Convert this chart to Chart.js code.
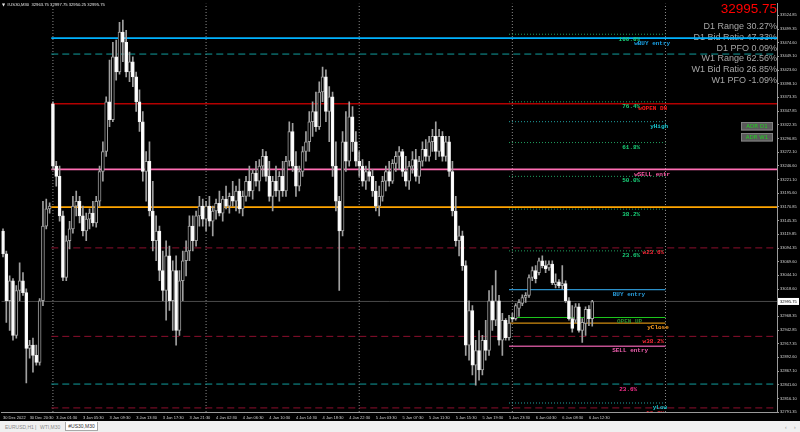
<!DOCTYPE html>
<html><head><meta charset="utf-8">
<script src="https://cdn.jsdelivr.net/npm/chart.js@4.4.1/dist/chart.umd.min.js"></script>
<style>
html,body{margin:0;padding:0;background:#000;width:800px;height:432px;overflow:hidden}
#wrap{position:absolute;left:0;top:0;width:800px;height:421px}
#tabs{position:absolute;left:0;top:421px;width:800px;height:11px;background:#f0f0f0;font:5px 'Liberation Sans',Arial,sans-serif;color:#8a8a8a}
#tabs span{position:absolute;top:3px;white-space:nowrap}
#tabs .act{position:absolute;left:65px;top:1px;width:31px;height:8px;background:#fff;border:1px solid #a8a8a8;border-top:none;color:#303030;text-align:center;line-height:8px}
</style></head><body>
<div id="wrap"><canvas id="c" width="800" height="421"></canvas></div>
<div id="tabs"><span style="left:5px">EURUSD,H1</span><span style="left:35px">|</span><span style="left:40px">WTI,M30</span><div class="act">#US30,M30</div><span style="left:785px">‹</span><span style="left:794px">›</span></div>
<script>
// ---------- DATA (US30 M30) ----------
const symbol = '#US30,M30';
const opens = [
33126,33084,32997,33034,32933,33016,33034,33012,32909,32915,32896,32883,32997,33135,33167,
33361,33246,33227,33154,33040,33108,33130,33172,33181,33154,33126,33148,33159,33141,33181,
33236,33273,33365,33332,33448,33420,33494,33475,33420,33439,33411,33365,33328,33236,33255,
33163,33108,33126,33053,33016,33080,32997,33053,32942,33034,33071,33089,33135,33108,33154,
33172,33148,33172,33144,33163,33177,33159,33185,33172,33190,33181,33200,33167,33190,33218,
33200,33233,33218,33246,33264,33227,33190,33218,33200,33227,33200,33255,33310,33246,33209,
33236,33273,33291,33328,33347,33319,33383,33411,33347,33374,33246,33181,33126,33291,33255,
33337,33291,33255,33246,33218,33236,33227,33200,33172,33190,33218,33236,33218,33251,33264,
33273,33236,33218,33246,33258,33227,33255,33277,33264,33291,33301,33273,33301,33264,33291,
33236,33163,33108,33117,33062,32915,32979,32878,32905,32869,32924,32905,32997,32961,32997,
32924,32961,32929,32966,32964,32983,32992,33003,33007,33040,33053,33049,33071,33062,33058,
33065,33027,33032,33025,33029,32997,32964,32961,32986,32942,32955,32981,32963.75];
const highs = [
33130,33089,33043,33038,33025,33067,33049,33019,32924,32928,32915,33001,33181,33185,33178,
33365,33255,33246,33163,33117,33144,33190,33200,33190,33172,33159,33167,33181,33190,33246,
33291,33374,33442,33475,33479,33512,33516,33497,33457,33448,33420,33387,33347,33273,33291,
33218,33154,33135,33089,33108,33098,33071,33080,33053,33089,33108,33154,33154,33163,33190,
33185,33181,33190,33172,33185,33200,33190,33209,33196,33218,33209,33222,33200,33227,33246,
33240,33255,33258,33277,33273,33255,33227,33246,33236,33255,33264,33328,33325,33273,33246,
33282,33310,33347,33365,33383,33402,33429,33424,33393,33383,33291,33190,33310,33347,33365,
33356,33310,33273,33258,33246,33255,33240,33218,33209,33227,33246,33255,33258,33273,33282,
33277,33264,33255,33273,33277,33264,33291,33295,33301,33314,33328,33314,33310,33301,33301,
33255,33190,33135,33126,33071,32997,32988,32924,32942,32933,32961,33016,33025,33053,33007,
32974,32964,32970,32974,32992,32999,33008,33012,33045,33060,33062,33076,33080,33071,33071,
33071,33047,33036,33062,33034,33003,32988,32992,32992,32964,32986,32988,32997.75];
const lows = [
33078,32957,32942,32924,32928,32997,33007,32845,32891,32865,32878,32878,32988,33130,33159,
33240,33209,33144,33034,33034,33093,33122,33154,33141,33117,33108,33130,33135,33133,33172,
33218,33264,33319,33328,33405,33416,33439,33411,33402,33393,33347,33310,33218,33181,33154,
33089,33071,33034,32997,32961,32979,32942,32915,32933,32997,33043,33071,33089,33098,33135,
33135,33126,33135,33117,33148,33154,33144,33167,33159,33172,33163,33159,33154,33181,33190,
33185,33209,33200,33227,33218,33181,33163,33190,33181,33190,33190,33246,33236,33190,33200,
33227,33255,33273,33301,33310,33314,33365,33328,33291,33227,33163,33016,33117,33236,33246,
33273,33246,33227,33209,33203,33218,33190,33163,33154,33181,33200,33209,33214,33236,33240,
33227,33209,33203,33233,33218,33214,33246,33255,33255,33273,33258,33264,33255,33255,33227,
33154,33098,33080,33053,32896,32887,32860,32841,32850,32860,32887,32896,32942,32951,32915,
32896,32924,32924,32958,32961,32968,32988,32994,33003,33034,33030,33045,33058,33049,33053,
33027,33021,33021,33019,32994,32961,32939,32957,32939,32920,32933,32951,32950.25];
const closes = [
33084,32997,33034,32933,33016,33034,33012,32909,32915,32896,32883,32997,33135,33167,33172,
33246,33227,33154,33040,33108,33130,33172,33181,33154,33126,33148,33159,33141,33181,33236,
33273,33365,33332,33448,33420,33494,33475,33420,33439,33411,33365,33328,33236,33255,33163,
33108,33126,33053,33016,33080,32997,33053,32942,33034,33071,33089,33135,33108,33154,33172,
33148,33172,33144,33163,33177,33159,33185,33172,33190,33181,33200,33167,33190,33218,33200,
33233,33218,33246,33264,33227,33190,33218,33200,33227,33200,33255,33310,33246,33209,33236,
33273,33291,33328,33347,33319,33383,33411,33347,33374,33246,33181,33126,33291,33255,33337,
33291,33255,33246,33218,33236,33227,33200,33172,33190,33218,33236,33218,33251,33264,33273,
33236,33218,33246,33258,33227,33255,33277,33264,33291,33301,33273,33301,33264,33291,33236,
33163,33108,33117,33062,32915,32979,32878,32905,32869,32924,32905,32997,32961,32997,32924,
32961,32929,32956,32963,32988,32994,33003,33007,33040,33053,33038,33071,33062,33056,33065,
33030,33032,33025,33029,32997,32964,32946,32986,32942,32957,32981,32964,32995.75];

const xTickLabels = ['30 Dec 2022','30 Dec 20:30','3 Jan 01:30','3 Jan 05:30','3 Jan 09:30','3 Jan 13:30','3 Jan 17:30','3 Jan 21:30',
 '4 Jan 02:30','4 Jan 06:30','4 Jan 10:30','4 Jan 14:30','4 Jan 18:30','4 Jan 22:30','5 Jan 03:30','5 Jan 07:30','5 Jan 11:30',
 '5 Jan 15:30','5 Jan 19:30','5 Jan 23:30','6 Jan 04:30','6 Jan 08:30','6 Jan 12:30'];
const xTickBars = [0,8,16,24,32,40,48,56,64,72,80,88,96,104,112,120,128,136,144,152,160,168,176];
const yTickValues = [33524.85,33499.35,33474.60,33449.10,33423.60,33398.10,33373.35,33347.85,33322.35,33296.85,
 33272.10,33246.60,33221.10,33195.60,33170.85,33145.35,33119.85,33094.35,33069.60,33044.10,33018.60,
 32968.35,32942.85,32917.35,32892.60,32867.10,32841.60,32816.10,32791.35];
const dayStartBars = [15,61,107,153,199];

// weekly levels (long lines) and daily levels (short lines)
const weeklyLevels = [33482.6,33453.2,33361.3,33240.0,33170.1,33094.8,32931.2,32843.0,32798.9];
const dailyLevels  = [33489.9,33364.9,33328.2,33289.6,33227.1,33166.5,33089.3,33017.5,32966.1,32955.6,32912.8,32808.0];
const levelTexts = ['100.0%','wBUY entry','76.4%','wOPEN DN','yHigh','61.8%','wSELL entr','50.0%','38.2%','w23.6%','23.6%',
 'BUY entry','OPEN UP','yClose','w38.2%','SELL entry','23.6%','yLow','w50.0%'];
const levelTextPrices = [33480.7,33472.5,33356.7,33352.1,33319.0,33280.4,33230.8,33219.8,33157.3,33086,33081,
 33009.3,32957.8,32947.7,32922,32904.5,32833.8,32798.8,32787.8];
const infoLines = ['D1 Range 30.27%','D1 Bid Ratio 47.33%','D1 PFO 0.09%','W1 Range 62.56%','W1 Bid Ratio 26.85%','W1 PFO -1.09%'];
const adrLabels = ['ADR D1','ADR W1'];

// ---------- STYLES ----------
const yMin = 32791.35, yMax = 33546.9, slotMin = -0.5, slotMax = 232.5;
const DASH = [7,4], DOT = [1,2];
const weeklyStyles = [
 {c:'#00b2ff',w:1.6,d:[]},{c:'#109c9c',w:1,d:DASH},{c:'#b40000',w:1.3,d:[]},{c:'#ff6eb4',w:1.6,d:[]},
 {c:'#ffa500',w:1.6,d:[]},{c:'#8c0f2d',w:1,d:DASH},{c:'#8c0f2d',w:1,d:DASH},{c:'#109c9c',w:1,d:DASH},{c:'#8c0f2d',w:1,d:DASH}];
const FG='#1f9f5f', TL='#1fa0a0';
const dailyStyles = [
 {c:FG,w:1,d:DOT},{c:FG,w:1,d:DOT},{c:TL,w:1,d:DOT},{c:FG,w:1,d:DOT},{c:FG,w:1,d:DOT},{c:FG,w:1,d:DOT},{c:FG,w:1,d:DOT},
 {c:'#2b8fc8',w:1.3,d:[]},{c:'#1ec81e',w:1,d:[]},{c:'#d08c10',w:1.3,d:[]},{c:'#c05090',w:1.6,d:[]},{c:TL,w:1,d:DOT}];
const GR='#19d27a', WR='#ff2a3a';
const labelStyles = [
 {x:191.4,c:GR},{x:200.4,c:'#1aa3e8'},{x:191.4,c:GR},{x:199.5,c:'#ff1a1a'},{x:199.8,c:'#19c8d2'},{x:191.4,c:GR},
 {x:200.4,c:'#ff5aa8'},{x:191.4,c:GR},{x:191.4,c:GR},{x:198.6,c:WR},{x:191.4,c:GR},{x:192.9,c:'#2aa0e0'},
 {x:192,c:'#2f8f2f'},{x:200,c:'#ffa020'},{x:198.6,c:WR},{x:193.8,c:'#f060b0'},{x:190.5,c:'#ff3090'},{x:199.5,c:'#19c8d2'},{x:198.6,c:WR}];

const last = opens.length - 1;
const lastPrice = closes[last];
const bull = closes.map((c,i)=>c>=opens[i]);

function hline(v, x0, x1, st, order){
  return {type:'line', data:[{x:x0,y:v},{x:x1,y:v}], borderColor:st.c, borderWidth:st.w, borderDash:st.d,
          pointRadius:0, fill:false, tension:0, order:order};
}
const datasets = [];
datasets.push({type:'bar', data:opens.map((o,i)=>({x:i,y:[Math.min(o,closes[i]),Math.max(o,closes[i])]})),
  backgroundColor:bull.map(b=>b?'#000000':'#ffffff'), borderColor:bull.map(b=>b?'#a0a0a0':'#f4f4f4'),
  borderWidth:1, borderSkipped:false, barThickness:3, minBarLength:1, grouped:false, order:0});
datasets.push({type:'bar', data:lows.map((l,i)=>({x:i,y:[l,highs[i]]})),
  backgroundColor:'#a0a0a0', borderWidth:0, barThickness:1, grouped:false, order:1});
weeklyLevels.forEach((v,i)=>datasets.push(hline(v, 14.5, slotMax, weeklyStyles[i], 5)));
dailyLevels.forEach((v,i)=>datasets.push(hline(v, 152, 199, dailyStyles[i], 5)));
datasets.push(hline(lastPrice, slotMin, slotMax, {c:'#4a4a4a',w:1,d:[]}, 6));
dayStartBars.forEach(b=>datasets.push({type:'line', data:[{x:b,y:yMin},{x:b,y:yMax}], borderColor:'#8a8a8a',
  borderWidth:1, borderDash:DOT, pointRadius:0, fill:false, order:7}));

const overlay = {
  id:'overlay',
  beforeDatasetsDraw(chart){
    const {ctx, chartArea:a} = chart;
    ctx.save();
    ctx.textBaseline='middle'; ctx.textAlign='left'; ctx.fillStyle='#e6e6e6';
    ctx.font="4px 'DejaVu Sans'"; ctx.fillText('\u25BC', 2, 4.5);
    ctx.font="4.2px 'Liberation Sans'";
    ctx.fillText(symbol+'  '+[opens[last],highs[last],lows[last],closes[last]].map(v=>v.toFixed(2)).join(' '), 7, 4.5);
    ctx.textAlign='right'; ctx.textBaseline='alphabetic';
    ctx.fillStyle='#ff0000'; ctx.font="13.5px 'Liberation Sans'";
    ctx.fillText(lastPrice.toFixed(2), a.right, 13.3);
    ctx.fillStyle='#a6a6a6'; ctx.font="9px 'Liberation Sans'";
    infoLines.forEach((t,i)=>ctx.fillText(t, a.right, 29.3+i*10.7));
    ctx.restore();
  },
  afterDraw(chart){
    const {ctx, chartArea:a, scales:{x, y}} = chart;
    ctx.save();
    ctx.beginPath(); ctx.rect(a.left,a.top,a.width,a.height); ctx.clip();
    ctx.font="bold 6px 'Liberation Mono'"; ctx.textAlign='right'; ctx.textBaseline='middle';
    levelTexts.forEach((t,i)=>{
      ctx.fillStyle = labelStyles[i].c;
      ctx.fillText(t, x.getPixelForValue(labelStyles[i].x), y.getPixelForValue(levelTextPrices[i]));
    });
    // ADR boxes
    ctx.font="5.5px 'DejaVu Sans'"; ctx.textAlign='center';
    adrLabels.forEach((t,i)=>{
      const by = 122 + i*11;
      ctx.fillStyle='#5a5a5a'; ctx.fillRect(741, by, 32, 8.5);
      ctx.strokeStyle='#8c8c8c'; ctx.lineWidth=0.8; ctx.strokeRect(741.5, by+0.5, 31, 7.5);
      ctx.fillStyle='#22d022'; ctx.fillText(t, 757, by+4.5);
    });
    ctx.restore();
    // bid price box on the axis
    ctx.save();
    const py = y.getPixelForValue(lastPrice);
    ctx.fillStyle='#ffffff'; ctx.fillRect(a.right+1, py-3.5, 21, 7);
    ctx.fillStyle='#000000'; ctx.font="4px 'Liberation Sans'"; ctx.textAlign='left'; ctx.textBaseline='middle';
    ctx.fillText(lastPrice.toFixed(2), a.right+3, py);
    ctx.restore();
  }
};

new Chart(document.getElementById('c'), {
  type:'bar',
  data:{datasets},
  options:{
    responsive:false, animation:false, devicePixelRatio:1,
    layout:{padding:{top:1,left:0,right:0,bottom:0}},
    plugins:{legend:{display:false}, tooltip:{enabled:false}},
    scales:{
      x:{type:'linear', min:slotMin, max:slotMax, offset:false,
         grid:{display:false, drawTicks:false, offset:false}, border:{display:true, color:'#9a9a9a', width:1},
         afterBuildTicks:s=>{ s.ticks = xTickBars.map(v=>({value:v})); },
         ticks:{autoSkip:false, maxRotation:0, minRotation:0, align:'start', padding:3, color:'#d4d4d4',
                font:{size:4, family:"'Liberation Sans'"}, callback:(v,i)=>xTickLabels[i]},
         afterFit:s=>{ s.height = 9; }},
      y:{type:'linear', position:'right', min:yMin, max:yMax,
         grid:{display:true, drawOnChartArea:false, drawTicks:true, tickLength:2, color:'#9a9a9a'},
         border:{display:true, color:'#9a9a9a', width:1},
         afterBuildTicks:s=>{ s.ticks = yTickValues.map(v=>({value:v})); },
         ticks:{padding:1, color:'#d4d4d4', font:{size:4, family:"'Liberation Sans'"}, callback:v=>Number(v).toFixed(2)},
         afterFit:s=>{ s.width = 23; }}
    }
  },
  plugins:[overlay]
});
</script>
</body></html>
